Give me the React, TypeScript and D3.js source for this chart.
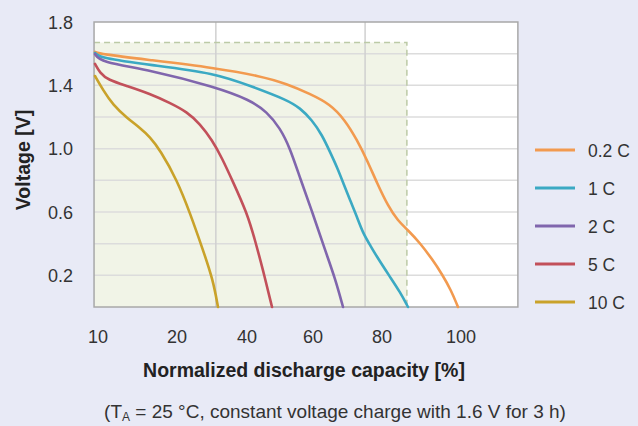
import React from "react";
import * as d3 from "d3";

// ---- data ----
const xTickValues = [10, 20, 40, 60, 80, 100];
const yTickValues = [0.2, 0.6, 1.0, 1.4, 1.8];
const yGridValues = [0.2, 0.4, 0.6, 0.8, 1.0, 1.2, 1.4, 1.6];
const xGridValues = [31.1, 75.1];
const xExtent = [9.5, 114.4];
const shadeCapacity = 86.3;
const shadeVoltage = 1.67;

const seriesNames = ["0.2 C", "1 C", "2 C", "5 C", "10 C"];
const seriesColors = ["#f29a4f", "#3ba9c3", "#8066ad", "#c2505a", "#c9a22a"];

const cap02 = [9.62, 10.25, 16.58, 30.86, 43.94, 52.12, 59.09, 64.93, 69.28, 72.75, 75.65, 78.55, 81.52, 84.05, 86.58, 89.62, 92.66, 95.19, 97.47, 99.24];
const volt02 = [1.611, 1.598, 1.56, 1.51, 1.459, 1.409, 1.346, 1.282, 1.181, 1.055, 0.929, 0.783, 0.638, 0.543, 0.486, 0.404, 0.303, 0.208, 0.107, 0.0];

const cap1 = [9.62, 10.25, 16.58, 30.86, 41.82, 52.12, 56.06, 59.7, 62.61, 64.93, 66.96, 68.99, 70.72, 72.75, 74.49, 76.52, 78.55, 82.03, 84.56, 86.58];
const volt1 = [1.605, 1.573, 1.529, 1.478, 1.39, 1.308, 1.257, 1.181, 1.087, 0.979, 0.884, 0.771, 0.676, 0.569, 0.467, 0.392, 0.316, 0.19, 0.095, 0.0];

const cap2 = [9.62, 10.25, 16.58, 30.86, 40.91, 46.06, 50.0, 53.03, 56.06, 60.0, 63.48, 66.38, 68.7];
const volt2 = [1.598, 1.548, 1.497, 1.39, 1.308, 1.232, 1.131, 1.004, 0.815, 0.587, 0.36, 0.183, 0.0];

const cap5 = [9.62, 10.25, 11.27, 13.67, 16.58, 19.11, 22.86, 26.57, 30.0, 32.86, 36.0, 40.0, 42.42, 44.85, 47.58];
const volt5 = [1.535, 1.478, 1.434, 1.396, 1.346, 1.289, 1.232, 1.156, 1.055, 0.941, 0.79, 0.594, 0.423, 0.234, 0.0];

const cap10 = [9.62, 10.63, 11.9, 13.67, 15.32, 16.58, 17.85, 20.0, 23.71, 27.43, 30.29, 31.71];
const volt10 = [1.459, 1.371, 1.276, 1.194, 1.131, 1.074, 0.992, 0.802, 0.594, 0.36, 0.171, 0.0];

const seriesCaps = [cap02, cap1, cap2, cap5, cap10];
const seriesVolts = [volt02, volt1, volt2, volt5, volt10];

const FONT = "Liberation Sans, Arial, sans-serif";

export default function App() {
  const W = 638;
  const H = 426;
  const x = d3
    .scaleLinear()
    .domain(xTickValues)
    .range([98, 177, 247, 313, 382, 461]);
  const y = d3.scaleLinear().domain([0, 1.8]).range([307, 22]);

  const left = x(xExtent[0]);
  const right = x(xExtent[1]);
  const top = y(1.8);
  const bottom = y(0);

  const line = d3
    .line<[number, number]>()
    .x((d) => x(d[0]))
    .y((d) => y(d[1]))
    .curve(d3.curveBasis);

  return (
    <svg
      width={W}
      height={H}
      style={{ position: "absolute", left: 0, top: 0, display: "block" }}
      fontFamily={FONT}
    >
      <rect x={0} y={0} width={W} height={H} fill="#e8eaf6" />
      {/* plot area */}
      <rect x={left} y={top} width={right - left} height={bottom - top} fill="#ffffff" />
      <rect
        x={left}
        y={y(shadeVoltage)}
        width={x(shadeCapacity) - left}
        height={bottom - y(shadeVoltage)}
        fill="#f1f4e7"
      />
      {yGridValues.map((v) => (
        <line key={"yg" + v} x1={left} x2={right} y1={y(v)} y2={y(v)} stroke="#dcdcdc" strokeWidth={1.5} />
      ))}
      {xGridValues.map((v) => (
        <line key={"xg" + v} x1={x(v)} x2={x(v)} y1={top} y2={bottom} stroke="#d0d0d0" strokeWidth={1.5} />
      ))}
      {/* dashed boundary */}
      <path
        d={`M${left},${y(shadeVoltage)}H${x(shadeCapacity)}V${bottom}`}
        fill="none"
        stroke="#bccaa6"
        strokeWidth={1.5}
        strokeDasharray="6,4"
      />
      <rect x={left} y={top} width={right - left} height={bottom - top} fill="none" stroke="#a8a8a8" strokeWidth={1.5} />

      {/* curves */}
      {seriesNames.map((name, i) => {
        const pts: [number, number][] = seriesCaps[i].map((c, j) => [c, seriesVolts[i][j]]);
        return (
          <path
            key={name}
            d={line(pts) || ""}
            fill="none"
            stroke={seriesColors[i]}
            strokeWidth={2.6}
            strokeLinejoin="round"
            strokeLinecap="round"
          />
        );
      })}

      {/* y ticks */}
      {yTickValues.map((v) => (
        <text key={"yt" + v} x={73} y={y(v) + 6.5} textAnchor="end" fontSize={18} fill="#333">
          {v.toFixed(1)}
        </text>
      ))}
      {/* x ticks */}
      {xTickValues.map((v) => (
        <text key={"xt" + v} x={x(v)} y={342.5} textAnchor="middle" fontSize={18} fill="#333">
          {v}
        </text>
      ))}

      {/* titles */}
      <text
        transform={`translate(30,160) rotate(-90)`}
        textAnchor="middle"
        fontSize={19.5}
        fontWeight="bold"
        fill="#222"
      >
        Voltage [V]
      </text>
      <text x={304} y={377} textAnchor="middle" fontSize={19.5} fontWeight="bold" fill="#222">
        Normalized discharge capacity [%]
      </text>
      <text x={335} y={418} textAnchor="middle" fontSize={19} fill="#333">
        (T
        <tspan fontSize={12} dy={3}>A</tspan>
        <tspan dy={-3}> = 25 °C, constant voltage charge with 1.6 V for 3 h)</tspan>
      </text>

      {/* legend */}
      {seriesNames.map((name, i) => {
        const ly = 150 + i * 38;
        return (
          <g key={"lg" + name}>
            <line x1={535} x2={575} y1={ly} y2={ly} stroke={seriesColors[i]} strokeWidth={3} />
            <text x={588} y={ly + 6.5} fontSize={17.5} fill="#333">
              {name}
            </text>
          </g>
        );
      })}
    </svg>
  );
}
